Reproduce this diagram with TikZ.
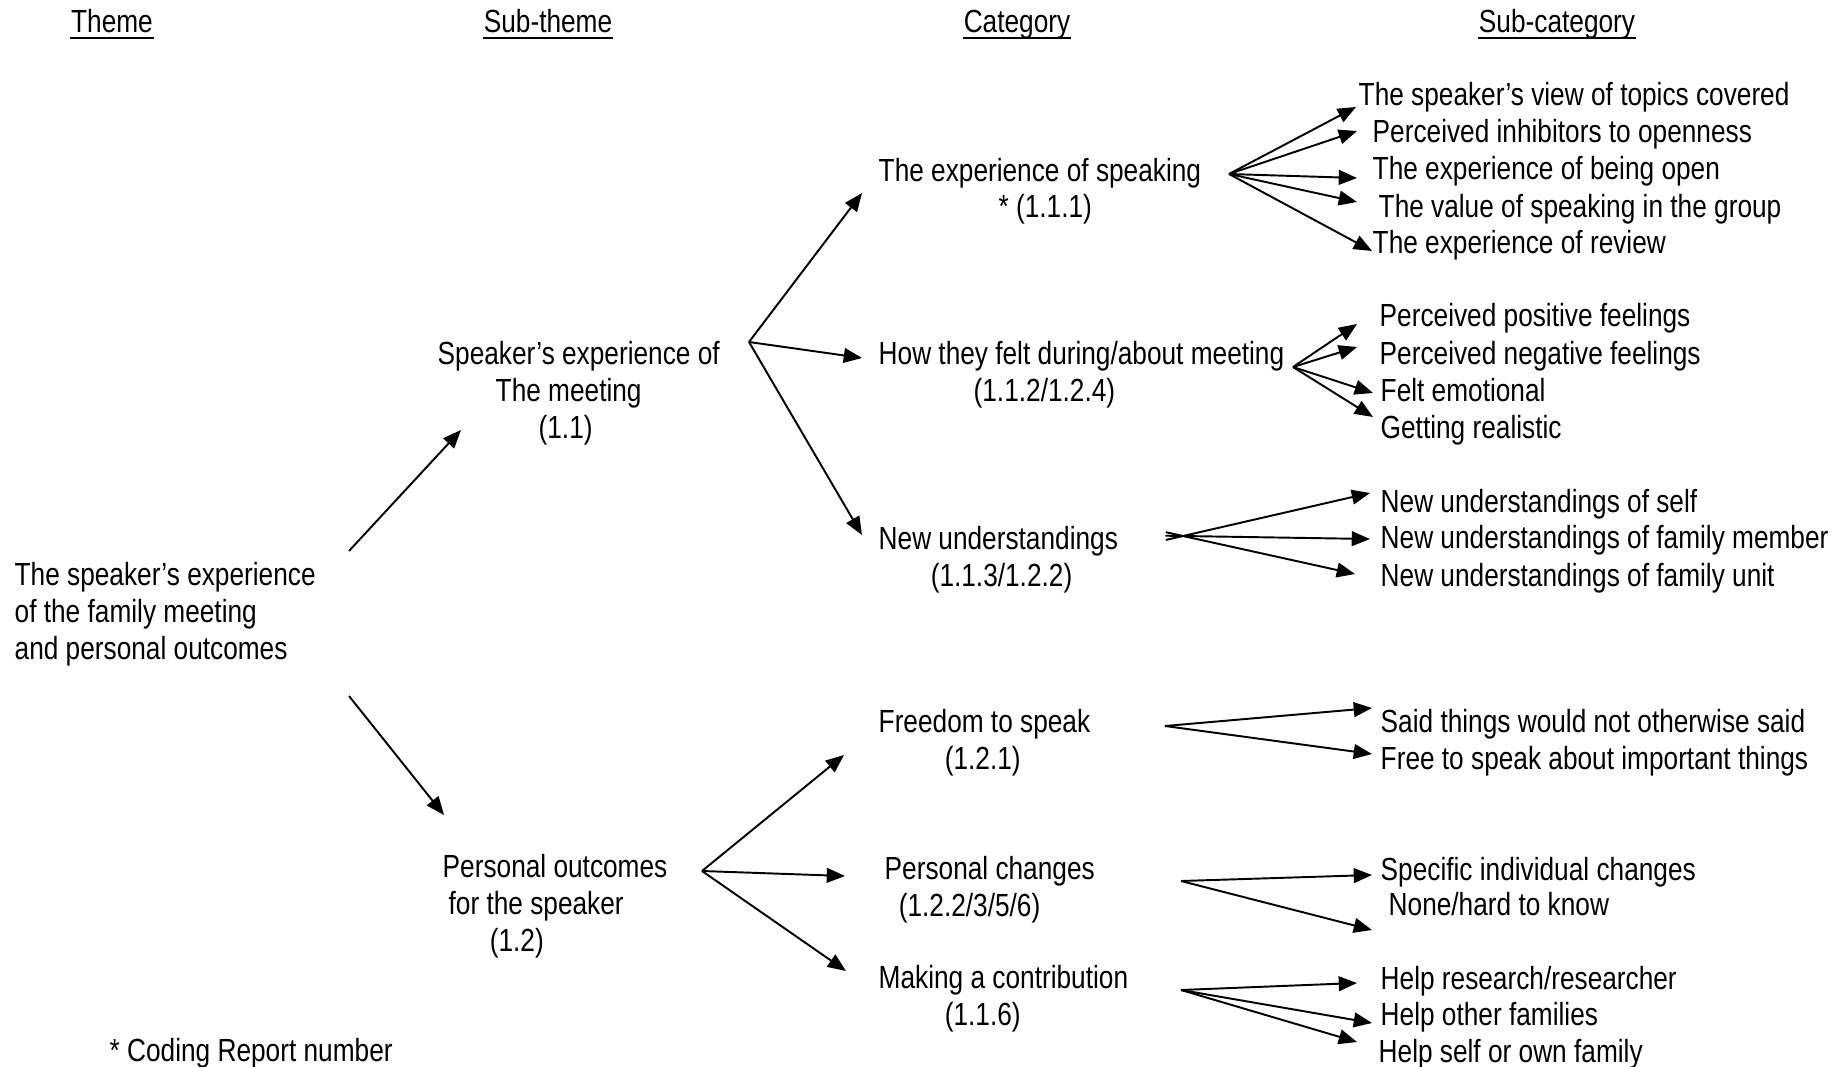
\documentclass[tikz,border=0pt]{standalone}
\usepackage{fontspec}
\setmainfont{Liberation Sans}[FakeStretch=0.82]
\usetikzlibrary{arrows.meta}

\begin{document}
\begin{tikzpicture}[x=0.01cm,y=-0.01cm,
  lbl/.style={inner sep=0pt, font=\fontsize{9.1}{10.45}\selectfont, align=left, anchor=base west},
  hdr/.style={inner sep=0pt, font=\fontsize{9.1}{10.45}\selectfont, anchor=base},
  arr/.style={line width=0.55pt, -{Triangle[length=5.2pt,width=4.2pt]}},
  uline/.style={line width=0.6pt}]
\useasboundingbox (0,0) rectangle (1843,1067);

% column headings
\node[hdr] (hTheme) at (112,33) {Theme};
\node[hdr] (hSub)   at (548,33) {Sub-theme};
\node[hdr] (hCat)   at (1017,33) {Category};
\node[hdr] (hSubc)  at (1557,33) {Sub-category};
\foreach \h in {hTheme,hSub,hCat,hSubc}
  \draw[uline] ([shift={(0,5)}]\h.base west) -- ([shift={(0,5)}]\h.base east);

% theme (multi-line nodes are placed by the baseline of their last line)
\node[lbl] (theme) at (14,659) {The speaker’s experience\\of the family meeting\\and personal outcomes};

% sub-themes
\node[lbl] (st1) at (437,438) {Speaker’s experience of\\\hspace*{16.5pt}The meeting\\\hspace*{28.7pt}(1.1)};
\node[lbl] (st2) at (442,951) {Personal outcomes\\\hspace*{1.7pt}for the speaker\\\hspace*{13.4pt}(1.2)};

% categories
\node[lbl] (c1) at (878,218) {The experience of speaking\\\hspace*{34.1pt}* (1.1.1)};
\node[lbl] (c2) at (878,401) {How they felt during/about meeting\\\hspace*{27pt}(1.1.2/1.2.4)};
\node[lbl] (c3) at (878,586) {New understandings\\\hspace*{14.8pt}(1.1.3/1.2.2)};
\node[lbl] (c4) at (878,769) {Freedom to speak\\\hspace*{18.8pt}(1.2.1)};
\node[lbl] (c5) at (884,916) {Personal changes\\\hspace*{4pt}(1.2.2/3/5/6)};
\node[lbl] (c6) at (878,1025) {Making a contribution\\\hspace*{18.8pt}(1.1.6)};

% sub-categories
\node[lbl] (s1a) at (1358,106) {The speaker’s view of topics covered};
\node[lbl] (s1b) at (1372,143) {Perceived inhibitors to openness};
\node[lbl] (s1c) at (1372,180) {The experience of being open};
\node[lbl] (s1d) at (1378,218) {The value of speaking in the group};
\node[lbl] (s1e) at (1372,254) {The experience of review};
\node[lbl] (s2a) at (1379,327) {Perceived positive feelings};
\node[lbl] (s2b) at (1379,364) {Perceived negative feelings};
\node[lbl] (s2c) at (1380,401) {Felt emotional};
\node[lbl] (s2d) at (1380,438) {Getting realistic};
\node[lbl] (s3a) at (1380,512) {New understandings of self};
\node[lbl] (s3b) at (1380,548) {New understandings of family member};
\node[lbl] (s3c) at (1380,586) {New understandings of family unit};
\node[lbl] (s4a) at (1380,732) {Said things would not otherwise said};
\node[lbl] (s4b) at (1380,769) {Free to speak about important things};
\node[lbl] (s5a) at (1380,880) {Specific individual changes};
\node[lbl] (s5b) at (1388,915) {None/hard to know};
\node[lbl] (s6a) at (1380,989) {Help research/researcher};
\node[lbl] (s6b) at (1380,1025) {Help other families};
\node[lbl] (s6c) at (1378,1062) {Help self or own family};

% footnote
\node[lbl] (note) at (109,1061) {* Coding Report number};

% branching points
\coordinate (fst1) at (749,342);
\coordinate (fst2) at (702,871);
\coordinate (f1) at (1229,174);
\coordinate (f2) at (1293,367);
\coordinate (f3) at (1183,536);
\coordinate (f4) at (1165,726);
\coordinate (f5) at (1181,881);
\coordinate (f6) at (1181,990);

% theme -> sub-themes
\draw[arr] ([shift={(335,-108)}]theme.base west) -- ([shift={(24,-8)}]st1.base west);
\draw[arr] ([shift={(335,37)}]theme.base west) -- ([shift={(2,-136)}]st2.base west);

% sub-themes -> categories
\draw[arr] (fst1) -- ([shift={(-16,-25)}]c1.base west);
\draw[arr] (fst1) -- ([shift={(-16,-43)}]c2.base west);
\draw[arr] (fst1) -- ([shift={(-16,-51)}]c3.base west);
\draw[arr] (fst2) -- ([shift={(-34,-14)}]c4.base west);
\draw[arr] (fst2) -- ([shift={(-39,-40)}]c5.base west);
\draw[arr] (fst2) -- ([shift={(-32,-54)}]c6.base west);

% categories -> sub-categories
\draw[arr] (f1) -- ([shift={(-2,1)}]s1a.base west);
\draw[arr] (f1) -- ([shift={(-15,-12)}]s1b.base west);
\draw[arr] (f1) -- ([shift={(-15,-2)}]s1c.base west);
\draw[arr] (f1) -- ([shift={(-21,-16)}]s1d.base west);
\draw[arr] (f1) -- ([shift={(0,-3)}]s1e.base west);

\draw[arr] (f2) -- ([shift={(-22,-3)}]s2a.base west);
\draw[arr] (f2) -- ([shift={(-22,-17)}]s2b.base west);
\draw[arr] (f2) -- ([shift={(-7,-8)}]s2c.base west);
\draw[arr] (f2) -- ([shift={(-7,-21)}]s2d.base west);

\draw[arr, shorten <=-5pt] (f3) -- ([shift={(-10,-19)}]s3a.base west);
\draw[arr, shorten <=-5pt] (f3) -- ([shift={(-10,-9)}]s3b.base west);
\draw[arr, shorten <=-5pt] (f3) -- ([shift={(-25,-12)}]s3c.base west);

\draw[arr] (f4) -- ([shift={(-8,-24)}]s4a.base west);
\draw[arr] (f4) -- ([shift={(-8,-15)}]s4b.base west);

\draw[arr] (f5) -- ([shift={(-8,-5)}]s5a.base west);
\draw[arr] (f5) -- ([shift={(-16,15)}]s5b.base west);

\draw[arr] (f6) -- ([shift={(-23,-6)}]s6a.base west);
\draw[arr] (f6) -- ([shift={(-8,-2)}]s6b.base west);
\draw[arr] (f6) -- ([shift={(-21,-20)}]s6c.base west);
\end{tikzpicture}
\end{document}
